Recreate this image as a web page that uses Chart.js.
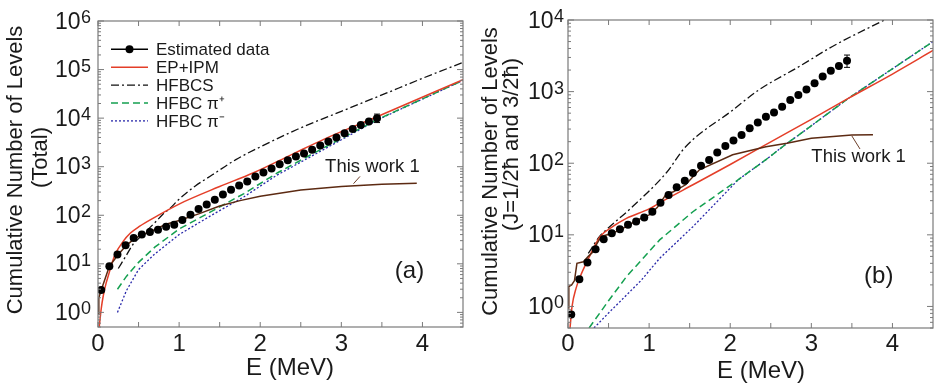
<!DOCTYPE html>
<html>
<head>
<meta charset="utf-8">
<script src="https://cdn.jsdelivr.net/npm/chart.js@4.4.1/dist/chart.umd.min.js"></script>
<style>
    body { margin: 0; background: #fff; width: 937px; height: 391px; overflow: hidden; position: relative; }
    .box { position: absolute; top: 0; height: 391px; }
</style>
</head>
<body>
<div class="box" style="left:0;width:467px"><canvas id="chartA"></canvas></div>
<div class="box" style="left:467px;width:470px"><canvas id="chartB"></canvas></div>
<script>
// energies of the estimated-data points (MeV), same for both panels
const estE = [0.04, 0.14, 0.24, 0.34, 0.44, 0.54, 0.64, 0.74, 0.84, 0.94, 1.04, 1.14, 1.24, 1.34, 1.44, 1.54, 1.64,
    1.74, 1.84, 1.94, 2.04, 2.14, 2.24, 2.34, 2.44, 2.54, 2.64, 2.74, 2.84, 2.94, 3.04, 3.14, 3.24, 3.34, 3.44];

// panel (a): total
const estTotal = [2.9, 8.9, 15.5, 24, 34, 40, 45, 50, 58, 64, 80, 102, 134, 167, 208, 268, 336, 410, 497, 630, 760,
    915, 1120, 1350, 1620, 1860, 2230, 2740, 3310, 4000, 4900, 6000, 7200, 8500, 10000];
const errTotalE = [3.44];
const errTotalLo = [8100];
const errTotalHi = [12100];

const epA_E = [0.015, 0.04, 0.065, 0.1, 0.126, 0.17, 0.21, 0.31, 0.4, 0.51, 0.72, 1.0, 1.5, 1.91, 2.4, 2.79, 3.44, 4.5];
const epA_V = [0.5, 1.2, 2.2, 4.0, 5.6, 10, 15.5, 29, 43, 59, 95, 170, 390, 740, 1820, 3700, 10700, 62000];

const hfbcsA_E = [0.25, 0.35, 0.43, 0.5, 0.7, 0.8, 0.88, 1.0, 1.2, 1.41, 1.7, 2.0, 2.46, 3.0, 3.5, 4.0, 4.5];
const hfbcsA_V = [8, 15, 25, 33, 70, 105, 135, 214, 400, 680, 1400, 2550, 5900, 13800, 30000, 66000, 140000];

const plusA_E = [0.24, 0.35, 0.5, 0.7, 1.0, 1.4, 1.8, 2.22, 2.83, 3.44, 4.5];
const plusA_V = [3.0, 5.5, 10.7, 22, 52, 120, 280, 760, 2700, 9300, 60000];

const minusA_E = [0.24, 0.35, 0.5, 0.7, 1.0, 1.4, 1.8, 2.2, 2.83, 3.44, 4.5];
const minusA_V = [1.0, 2.8, 7.6, 16, 40, 100, 240, 660, 2500, 9100, 60000];

const workA_E = [0, 0.01, 0.04, 0.14, 0.25, 0.35, 0.45, 0.55, 0.65, 0.75, 0.85, 1.0, 1.25, 1.5, 1.75, 2.0, 2.5, 3.0, 3.5, 3.93];
const workA_V = [0.95, 2.0, 2.9, 8.9, 15.5, 24, 33, 40, 46, 56, 66, 78, 108, 155, 200, 245, 330, 390, 435, 455];

// panel (b): J = 1/2 and 3/2
const estJ = [0.77, 2.4, 4.1, 6.3, 8.7, 10.5, 12.0, 13.8, 15.4, 17.5, 21, 28, 36, 46, 57, 73, 92, 111, 141, 174, 208,
    247, 309, 370, 446, 510, 617, 765, 895, 1070, 1310, 1620, 1960, 2270, 2690];
const errJE = [3.44];
const errJLo = [2180];
const errJHi = [3240];

const epB_E = [0.025, 0.05, 0.1, 0.15, 0.25, 0.39, 0.55, 0.72, 1.0, 1.2, 1.54, 2.0, 2.5, 3.0, 3.46, 4.0, 4.5];
const epB_V = [0.5, 1.0, 1.8, 2.6, 4.6, 9.3, 13, 17, 23, 31, 50, 96, 199, 410, 810, 1760, 3750];

const hfbcsB_E = [0.25, 0.39, 0.47, 0.8, 1.21, 1.45, 2.03, 2.35, 2.85, 3.26, 3.9];
const hfbcsB_V = [5.5, 9.5, 11.7, 25, 73, 170, 550, 1050, 2240, 4270, 10000];

const plusB_E = [0.26, 0.5, 0.72, 1.13, 1.54, 2.1, 2.44, 2.7, 2.85, 3.46, 4.5];
const plusB_V = [0.5, 1.2, 2.6, 8.5, 21, 59, 112, 190, 250, 810, 5000];

const minusB_E = [0.32, 0.5, 0.9, 1.13, 1.54, 2.1, 2.44, 2.7, 2.85, 3.46, 4.5];
const minusB_V = [0.5, 0.81, 2.3, 4.7, 13, 59, 112, 190, 250, 810, 5000];

const workB_E = [0, 0.01, 0.045, 0.08, 0.11, 0.19, 0.25, 0.31, 0.35, 0.41, 0.55, 0.72, 0.85, 1.0, 1.1, 1.21, 1.3,
    1.45, 1.62, 2.03, 2.44, 2.7, 3.0, 3.5, 3.76];
const workB_V = [0.95, 1.9, 2.0, 2.3, 4.0, 4.2, 5.0, 5.8, 7.3, 9.5, 10.5, 13, 16, 19, 24, 37, 40, 50, 81, 131, 170,
    190, 223, 247, 250];

// axes
const xTickVals = [0, 0.5, 1, 1.5, 2, 2.5, 3, 3.5, 4];
const xLabelVals = [0, 1, 2, 3, 4];
const yExpA = [0, 1, 2, 3, 4, 5, 6];
const yExpB = [0, 1, 2, 3, 4];

const legendNames = ['Estimated data', 'EP+IPM', 'HFBCS', 'HFBC \u03c0\u207a', 'HFBC \u03c0\u207b'];

const FONT = "'Liberation Sans', Arial, Helvetica, sans-serif";
const RED = 'rgb(228, 62, 40)';
const GREEN = 'rgb(20, 160, 80)';
const BLUE = 'rgb(40, 40, 170)';
const BROWN = 'rgb(92, 42, 18)';

function pts(xs, ys) {
    return xs.map((x, i) => ({ x: x, y: ys[i] }));
}

function makeDatasets(est, ep, hf, plus, minus, work) {
    return [
        { label: legendNames[0], data: pts(estE, est), showLine: false, pointRadius: 4, pointBackgroundColor: '#000', pointBorderWidth: 0 },
        { label: 'This work 1', data: work, borderColor: BROWN, borderWidth: 1.5, pointRadius: 0 },
        { label: legendNames[1], data: ep, borderColor: RED, borderWidth: 1.5, pointRadius: 0, cubicInterpolationMode: 'monotone' },
        { label: legendNames[2], data: hf, borderColor: '#111', borderWidth: 1.3, borderDash: [8, 3, 2, 3], pointRadius: 0, cubicInterpolationMode: 'monotone' },
        { label: legendNames[3], data: plus, borderColor: GREEN, borderWidth: 1.5, borderDash: [7, 4], pointRadius: 0 },
        { label: legendNames[4], data: minus, borderColor: BLUE, borderWidth: 1.3, borderDash: [2, 2], pointRadius: 0 }
    ];
}

const decor = {
    id: 'decor',
    afterDraw(chart, args, o) {
        const ctx = chart.ctx;
        const a = chart.chartArea;
        const x = chart.scales.x, y = chart.scales.y;
        ctx.save();

        // error bar on the last point
        ctx.strokeStyle = '#000';
        ctx.lineWidth = 1;
        o.errE.forEach((e, i) => {
            const px = x.getPixelForValue(e);
            const p1 = y.getPixelForValue(o.errLo[i]), p2 = y.getPixelForValue(o.errHi[i]);
            ctx.beginPath();
            ctx.moveTo(px, p1); ctx.lineTo(px, p2);
            ctx.moveTo(px - 3, p1); ctx.lineTo(px + 3, p1);
            ctx.moveTo(px - 3, p2); ctx.lineTo(px + 3, p2);
            ctx.stroke();
        });

        // frame and inward ticks
        ctx.strokeStyle = '#7a7a7a';
        ctx.lineWidth = 1.2;
        ctx.strokeRect(a.left, a.top, a.right - a.left, a.bottom - a.top);
        ctx.lineWidth = 1;
        ctx.beginPath();
        o.yExp.forEach(d => {
            for (let m = 1; m <= 9; m++) {
                const v = m * Math.pow(10, d);
                if (v < y.min || v > y.max) continue;
                const py = y.getPixelForValue(v);
                const len = m === 1 ? 6 : 3;
                ctx.moveTo(a.left, py); ctx.lineTo(a.left + len, py);
                ctx.moveTo(a.right, py); ctx.lineTo(a.right - len, py);
            }
        });
        for (let m = 5; m <= 9; m++) {
            const v = m * Math.pow(10, -1);
            if (v < y.min) continue;
            const py = y.getPixelForValue(v);
            ctx.moveTo(a.left, py); ctx.lineTo(a.left + 3, py);
            ctx.moveTo(a.right, py); ctx.lineTo(a.right - 3, py);
        }
        xTickVals.forEach(v => {
            const px = x.getPixelForValue(v);
            ctx.moveTo(px, a.bottom); ctx.lineTo(px, a.bottom - 5);
            ctx.moveTo(px, a.top); ctx.lineTo(px, a.top + 5);
        });
        ctx.stroke();

        // tick labels
        ctx.fillStyle = '#1a1a1a';
        ctx.textBaseline = 'alphabetic';
        o.yExp.forEach(d => {
            const py = y.getPixelForValue(Math.pow(10, d));
            ctx.font = '18px ' + FONT;
            ctx.textAlign = 'right';
            const supW = ctx.measureText(String(d)).width;
            const right = a.left - o.labelGap;
            ctx.fillText(String(d), right, py + 2);
            ctx.font = '23px ' + FONT;
            ctx.fillText('10', right - supW - 0.5, py + 7.5);
        });
        ctx.font = '24px ' + FONT;
        ctx.textAlign = 'center';
        xLabelVals.forEach(v => {
            ctx.fillText(String(v), x.getPixelForValue(v), 351);
        });

        // axis titles
        ctx.textAlign = 'left';
        ctx.fillText('E (MeV)', o.xTitle[0], o.xTitle[1]);
        ctx.font = '22px ' + FONT;
        ctx.textAlign = 'center';
        o.yTitle.forEach(t => {
            ctx.save();
            ctx.translate(t.x, t.y);
            ctx.rotate(-Math.PI / 2);
            ctx.fillText(t.text, 0, 0);
            ctx.restore();
        });

        // panel label
        ctx.font = '24px ' + FONT;
        ctx.textAlign = 'left';
        ctx.textBaseline = 'middle';
        ctx.fillText(o.panel, x.getPixelForValue(o.panelAt[0]), y.getPixelForValue(o.panelAt[1]));

        // "This work 1" annotation with leader
        ctx.font = '18.5px ' + FONT;
        ctx.fillText('This work 1', x.getPixelForValue(o.noteAt[0]), y.getPixelForValue(o.noteAt[1]));
        ctx.strokeStyle = BROWN;
        ctx.lineWidth = 0.9;
        ctx.beginPath();
        ctx.moveTo(x.getPixelForValue(o.leader[0]), y.getPixelForValue(o.leader[1]));
        ctx.lineTo(x.getPixelForValue(o.leader[2]), y.getPixelForValue(o.leader[3]));
        ctx.stroke();

        // legend
        if (o.legend) {
            const styles = chart.data.datasets;
            const order = [0, 2, 3, 4, 5];
            ctx.font = '17px ' + FONT;
            order.forEach((di, row) => {
                const ds = styles[di];
                const cy = o.legend.top + row * 17.9;
                ctx.strokeStyle = di === 0 ? '#000' : ds.borderColor;
                ctx.lineWidth = di === 0 ? 1.5 : ds.borderWidth;
                ctx.setLineDash(ds.borderDash || []);
                ctx.beginPath();
                ctx.moveTo(o.legend.x0, cy); ctx.lineTo(o.legend.x1, cy);
                ctx.stroke();
                ctx.setLineDash([]);
                if (di === 0) {
                    ctx.fillStyle = '#000';
                    ctx.beginPath();
                    ctx.arc((o.legend.x0 + o.legend.x1) / 2, cy, 4, 0, Math.PI * 2);
                    ctx.fill();
                }
                ctx.fillStyle = '#1a1a1a';
                ctx.fillText(legendNames[row], o.legend.x1 + 8, cy + 1);
            });
        }
        ctx.restore();
    }
};

function makeChart(id, datasets, yMax, yWidth, xHeight, padding, opts) {
    return new Chart(document.getElementById(id).getContext('2d'), {
        type: 'line',
        data: { datasets: datasets },
        options: {
            responsive: true,
            maintainAspectRatio: false,
            animation: false,
            layout: { padding: padding },
            scales: {
                x: {
                    type: 'linear', min: 0, max: 4.5,
                    ticks: { display: false }, grid: { display: false }, border: { display: false },
                    afterFit: s => { s.height = xHeight; }
                },
                y: {
                    type: 'logarithmic', min: 0.5, max: yMax,
                    ticks: { display: false }, grid: { display: false }, border: { display: false },
                    afterFit: s => { s.width = yWidth; }
                }
            },
            plugins: {
                legend: { display: false },
                tooltip: { enabled: false },
                decor: opts
            }
        },
        plugins: [decor]
    });
}

makeChart('chartA',
    makeDatasets(estTotal, pts(epA_E, epA_V), pts(hfbcsA_E, hfbcsA_V), pts(plusA_E, plusA_V), pts(minusA_E, minusA_V), pts(workA_E, workA_V)),
    1e6, 98, 64, { top: 21, right: 1, left: 0, bottom: 0 },
    {
        yExp: yExpA, labelGap: 7,
        errE: errTotalE, errLo: errTotalLo, errHi: errTotalHi,
        xTitle: [246, 375],
        yTitle: [{ text: 'Cumulative Number of Levels', x: 21.5, y: 170 }, { text: '(Total)', x: 46.5, y: 157.5 }],
        panel: '(a)', panelAt: [3.66, 6.9],
        noteAt: [2.8, 1000], leader: [3.15, 447, 3.23, 630],
        legend: { x0: 111, x1: 148, top: 49.3 }
    });

makeChart('chartB',
    makeDatasets(estJ, pts(epB_E, epB_V), pts(hfbcsB_E, hfbcsB_V), pts(plusB_E, plusB_V), pts(minusB_E, minusB_V), pts(workB_E, workB_V)),
    1e4, 101, 63, { top: 20, right: 2, left: 0, bottom: 0 },
    {
        yExp: yExpB, labelGap: 4,
        errE: errJE, errLo: errJLo, errHi: errJHi,
        xTitle: [250, 378],
        yTitle: [{ text: 'Cumulative Number of Levels', x: 29.5, y: 171.5 }, { text: '(J=1/2\u0127 and 3/2\u0127)', x: 50.5, y: 144.5 }],
        panel: '(b)', panelAt: [3.65, 2.6],
        noteAt: [3.0, 124], leader: [3.5, 240, 3.6, 158],
        legend: null
    });
</script>
</body>
</html>
